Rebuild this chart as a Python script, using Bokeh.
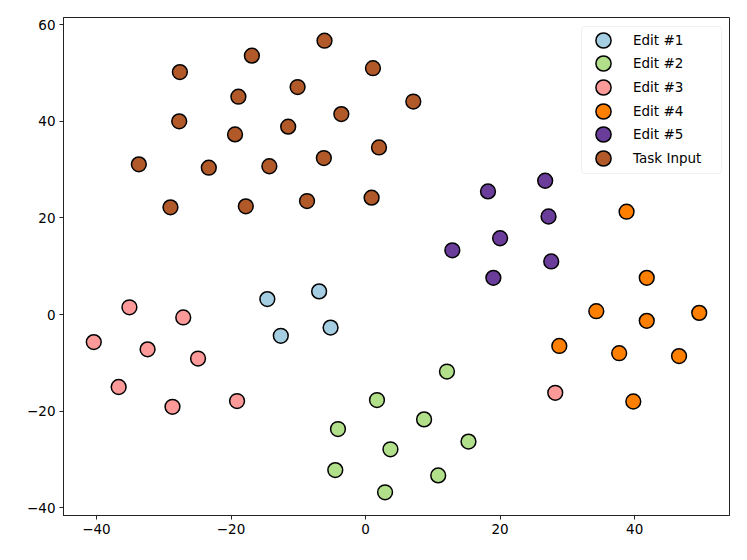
from bokeh.plotting import figure
from bokeh.models import Range1d, FixedTicker, Legend, LegendItem, BoxAnnotation
from bokeh.embed import file_html
from bokeh.resources import INLINE

series_names = ["Edit #1", "Edit #2", "Edit #3", "Edit #4", "Edit #5", "Task Input"]
colors = ["#a6cee3", "#b2df8a", "#fb9a99", "#ff7f00", "#6a3d9a", "#b15928"]

edit1_x = [-14.6, -6.9, -12.6, -5.2]
edit1_y = [3.2, 4.8, -4.4, -2.7]

edit2_x = [1.7, -4.1, -4.5, 12.1, 8.7, 3.7, 15.3, 10.8, 2.9]
edit2_y = [-17.7, -23.7, -32.2, -11.8, -21.7, -27.9, -26.3, -33.3, -36.8]

edit3_x = [-40.4, -35.1, -27.1, -32.4, -24.9, -36.7, -28.7, -19.1, 28.2]
edit3_y = [-5.7, 1.5, -0.6, -7.2, -9.1, -15.0, -19.1, -17.9, -16.2]

edit4_x = [38.8, 41.8, 34.3, 49.6, 41.8, 28.8, 37.7, 46.6, 39.8]
edit4_y = [21.3, 7.6, 0.7, 0.35, -1.3, -6.5, -8.0, -8.6, -18.0]

edit5_x = [26.7, 18.2, 27.2, 20.0, 12.9, 27.6, 19.0]
edit5_y = [27.7, 25.5, 20.3, 15.8, 13.3, 11.0, 7.6]

task_x = [-27.6, -16.9, -6.1, 1.1, -10.1, -18.9, -3.6, 7.1, -27.7, -19.4,
          -11.5, -33.7, -23.3, -14.3, -6.2, 2.0, -29.0, -17.8, -8.7, 0.9]
task_y = [50.2, 53.6, 56.7, 51.0, 47.1, 45.1, 41.5, 44.1, 40.0, 37.3,
          38.9, 31.1, 30.4, 30.7, 32.4, 34.6, 22.2, 22.4, 23.5, 24.2]

x_ticks = [-40, -20, 0, 20, 40]
y_ticks = [-40, -20, 0, 20, 40, 60]

xs = [edit1_x, edit2_x, edit3_x, edit4_x, edit5_x, task_x]
ys = [edit1_y, edit2_y, edit3_y, edit4_y, edit5_y, task_y]

FRAME_H = 498
p = figure(width=731, height=544, output_backend="svg", toolbar_location=None,
           x_range=Range1d(-44.9, 54.1), y_range=Range1d(-41.6, 61.5),
           min_border_left=63, min_border_right=2, min_border_top=17, min_border_bottom=29)
p.grid.visible = False
p.outline_line_color = "#222222"
p.outline_line_width = 1
p.background_fill_color = "white"
p.border_fill_color = "white"

for ax, ticks in ((p.xaxis, x_ticks), (p.yaxis, y_ticks)):
    ax.ticker = FixedTicker(ticks=ticks)
    ax.minor_tick_line_color = None
    ax.major_tick_in = 0
    ax.major_tick_out = 4
    ax.axis_line_color = "#222222"
    ax.major_tick_line_color = "#222222"
    ax.major_label_text_font = "DejaVu Sans"
    ax.major_label_text_font_size = "13.5px"
    ax.major_label_text_color = "black"
    ax.major_label_standoff = 4

# legend frame (screen units)
box = BoxAnnotation(left=518, right=658, bottom=FRAME_H - 156, top=FRAME_H - 9,
                    left_units="screen", right_units="screen",
                    bottom_units="screen", top_units="screen",
                    fill_color="white", fill_alpha=0.8,
                    line_color="#cccccc", line_width=1, border_radius=3, level="overlay")
p.add_layout(box)

renderers = []
for name, c, x, y in zip(series_names, colors, xs, ys):
    r = p.scatter(x, y, size=14.8, fill_color=c, line_color="black", line_width=1.5)
    renderers.append(r)

first_row_center = 22.7
row_step = 23.66
glyph = 38
for i, (name, r) in enumerate(zip(series_names, renderers)):
    center = first_row_center + i * row_step
    lg = Legend(items=[LegendItem(label=name, renderers=[r])],
                location=(540 - glyph / 2, FRAME_H - (center + glyph / 2)), margin=0, padding=0,
                glyph_width=glyph, glyph_height=glyph, label_standoff=11,
                label_text_font="DejaVu Sans", label_text_font_size="13.5px",
                label_text_color="black",
                border_line_color=None, background_fill_alpha=0)
    p.add_layout(lg)

open("out.html", "w").write(file_html(p, INLINE))
